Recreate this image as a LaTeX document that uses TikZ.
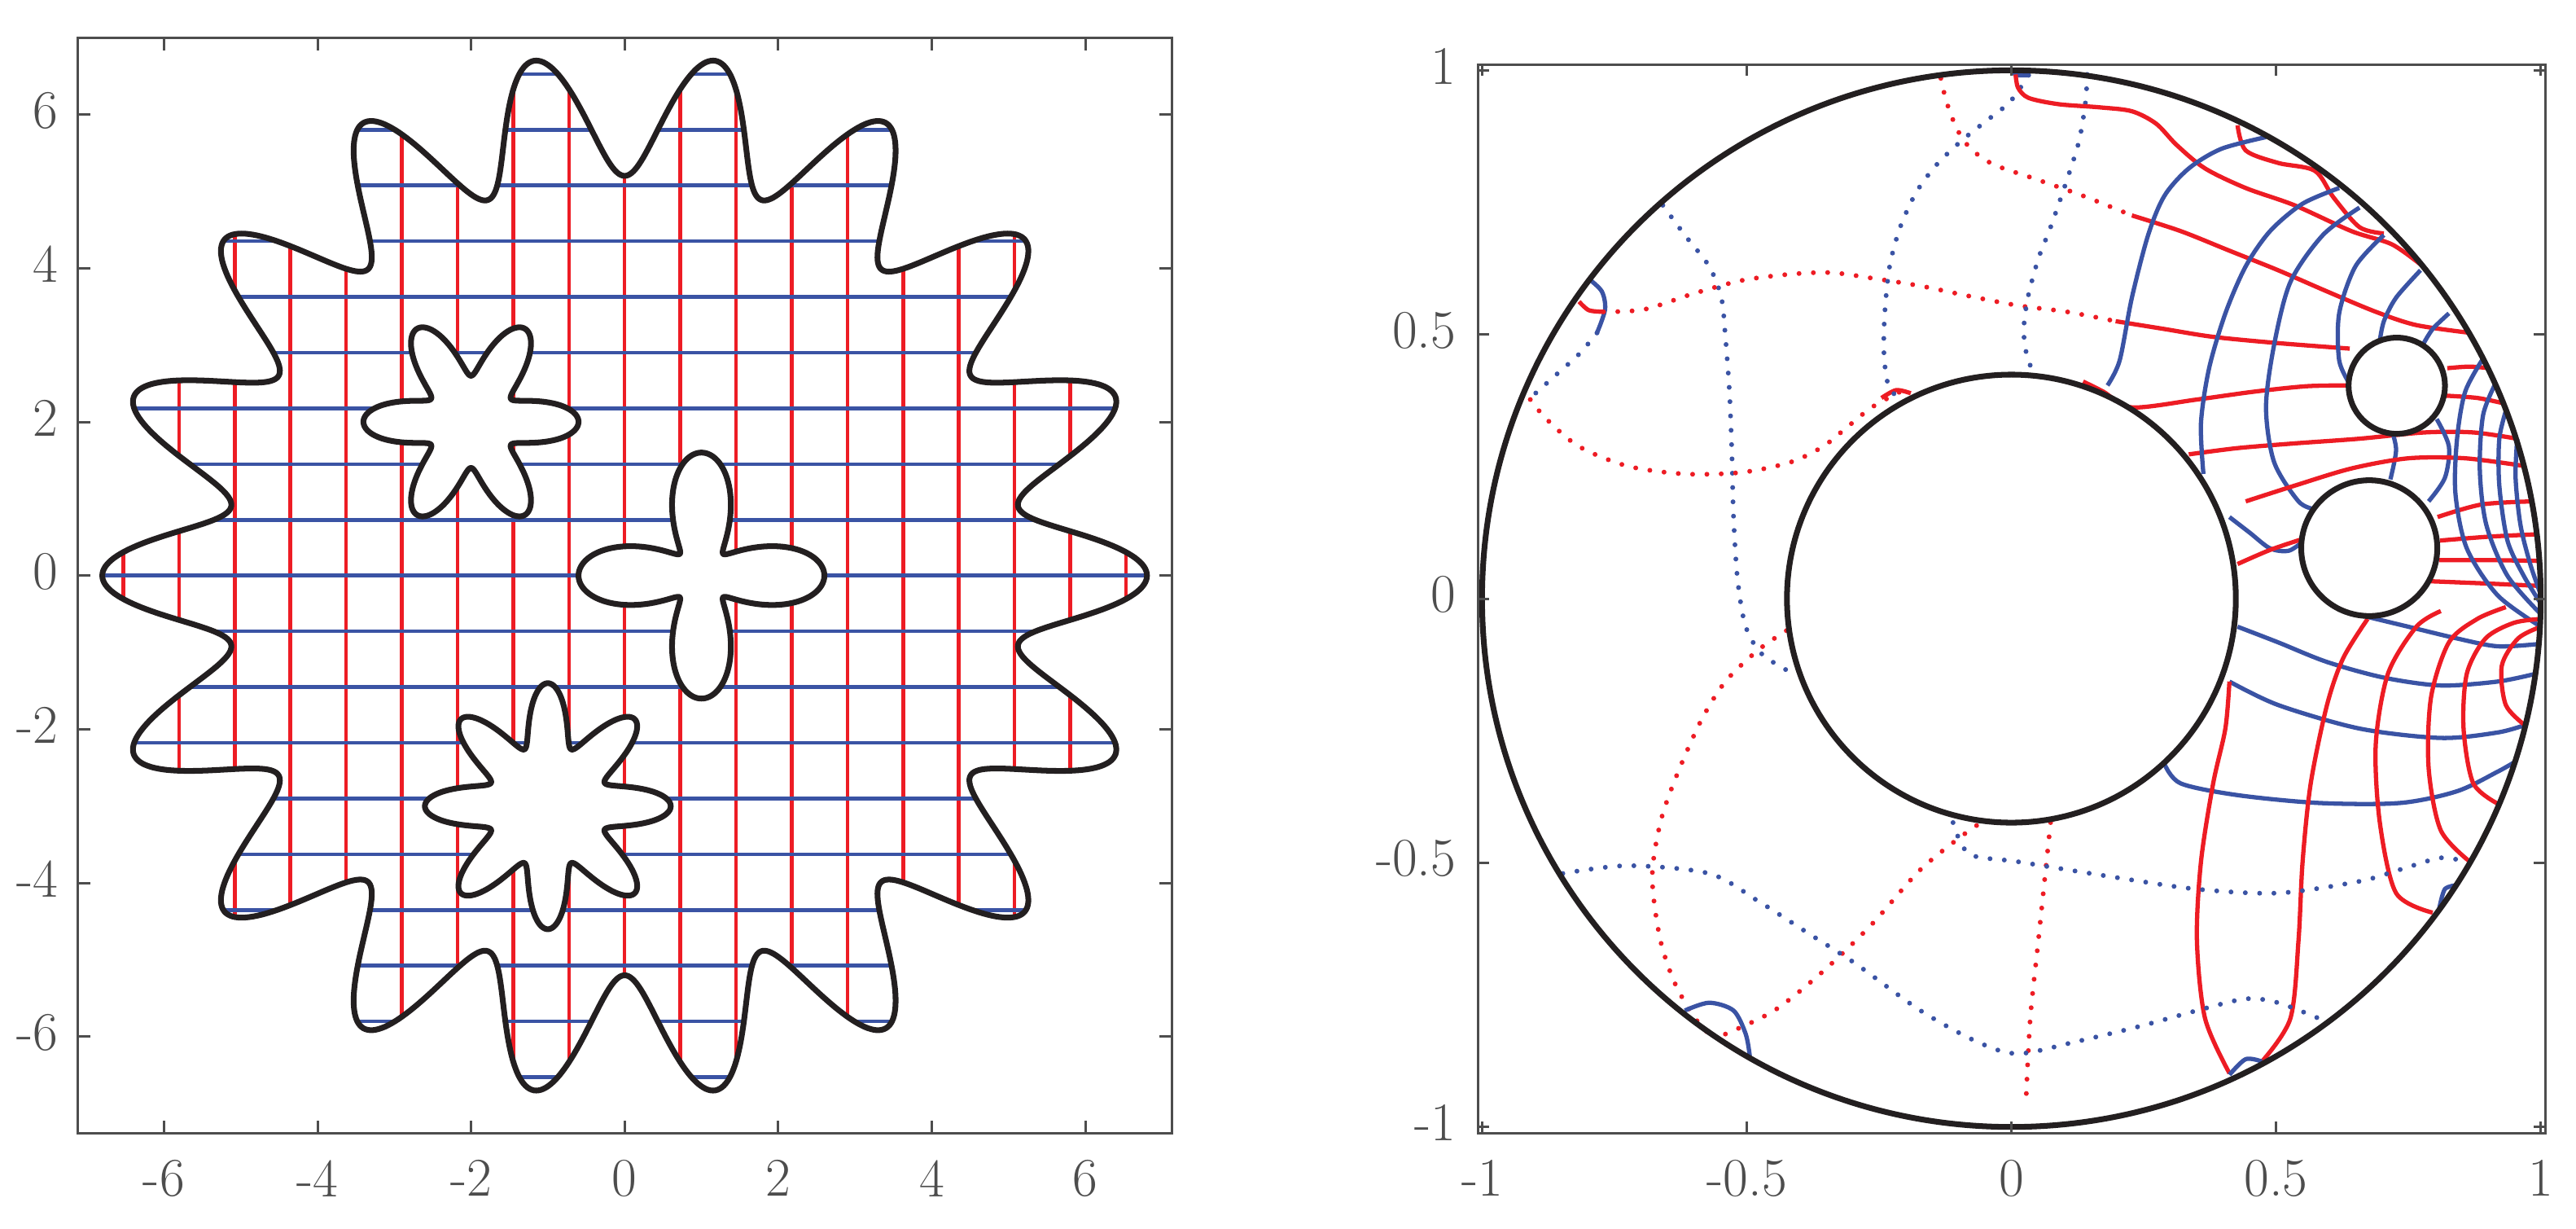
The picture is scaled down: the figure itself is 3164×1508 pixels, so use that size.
\documentclass[tikz,border=0pt]{standalone}
\usepackage{fontspec}
\definecolor{axgray}{RGB}{77,77,77}
\definecolor{gridred}{RGB}{237,28,36}
\definecolor{gridblue}{RGB}{58,83,164}
\definecolor{bnd}{RGB}{35,31,32}
\begin{document}
\begin{tikzpicture}[x=0.01cm,y=-0.01cm,
  axisline/.style={axgray, line width=0.85pt},
  ticklab/.style={text=axgray, inner sep=0pt, font=\fontsize{19}{19}\selectfont},
  redgrid/.style={gridred, line width=1.3pt},
  bluegrid/.style={gridblue, line width=1.3pt},
  bndline/.style={draw=bnd, line width=2pt},
  rdot/.style={gridred, line width=1.7pt, dash pattern=on 0pt off 5pt, line cap=round},
  bdot/.style={gridblue, line width=1.7pt, dash pattern=on 0pt off 5pt, line cap=round},
  rsol/.style={gridred, line width=1.5pt},
  bsol/.style={gridblue, line width=1.5pt},
]
\useasboundingbox (0,0) rectangle (3164,1508);

% ---------------- left panel ----------------
\begin{scope}[shift={(767.2,706.7)}, x=0.943cm, y=0.9433cm]
  \begin{scope}
    \clip plot[domain=0:360, samples=1441] ({(6+0.8*cos(18*\x))*cos(\x)}, {(6+0.8*cos(18*\x))*sin(\x)}) -- cycle;
    \foreach \k in {-9,...,9} \draw[redgrid] ({0.725*\k},-7.3) -- ({0.725*\k},7.3);
    \foreach \k in {-9,...,9} \draw[bluegrid] (-7.3,{0.725*\k}) -- (7.3,{0.725*\k});
  \end{scope}
  \draw[bndline] plot[domain=0:360, samples=1441] ({(6+0.8*cos(18*\x))*cos(\x)}, {(6+0.8*cos(18*\x))*sin(\x)}) -- cycle;
  \draw[bndline, fill=white] plot[domain=0:360, samples=721] ({-2+(1+0.4*cos(6*\x))*cos(\x)}, {2+(1+0.4*cos(6*\x))*sin(\x)}) -- cycle;
  \draw[bndline, fill=white] plot[domain=0:360, samples=721] ({1+(1+0.6*cos(4*\x))*cos(\x)}, {(1+0.6*cos(4*\x))*sin(\x)}) -- cycle;
  \draw[bndline, fill=white] plot[domain=0:360, samples=721] ({-1+(1.2+0.4*cos(8*\x))*cos(\x)}, {-3+(1.2+0.4*cos(8*\x))*sin(\x)}) -- cycle;
\end{scope}
\draw[axisline] (95.7,46.7) rectangle (1439.3,1391);
\foreach \k [count=\i] in {-6,-4,-2,0,2,4,6} {
  \draw[axisline] ({767.2+94.3*\k},1391) -- ++(0,-15);
  \draw[axisline] ({767.2+94.3*\k},46.7) -- ++(0,15);
  \node[ticklab, anchor=north] (lx\i) at ({767.2+94.3*\k},1424) {\k};
  \draw[axisline] (95.7,{706.7-94.33*\k}) -- ++(15,0);
  \draw[axisline] (1439.3,{706.7-94.33*\k}) -- ++(-15,0);
  \node[ticklab, anchor=east] (ly\i) at (72,{701.7-94.33*\k}) {\k};
}

% ---------------- right panel ----------------
\begin{scope}[shift={(1600,0)}, x=0.009974cm, y=-0.009617cm]
  % sparse (dotted) curves, upper half
  \draw[bdot] plot[smooth] coordinates {(443,262) (470,300) (500,340) (515,380) (520,430) (525,500) (528,580) (530,660) (535,740) (545,800) (565,835) (600,858)};
  \draw[bsol] plot[smooth] coordinates {(352,356) (368,372) (372,395) (362,425)};
  \draw[bdot] plot[smooth] coordinates {(362,425) (340,452) (310,480) (280,508)};
  \draw[rsol] plot[smooth] coordinates {(340,385) (352,396) (370,398)};
  \draw[rdot] plot[smooth] coordinates {(370,398) (420,395) (480,375) (540,358) (600,350) (650,348) (700,355) (760,365) (820,378) (880,390) (940,398) (1000,410)};
  \draw[rsol] plot[smooth] coordinates {(1000,410) (1060,420) (1120,430) (1200,438) (1288,445)};
  \draw[rdot] plot[smooth] coordinates {(280,510) (300,535) (340,570) (400,595) (470,605) (540,603) (600,590) (640,570) (670,545) (700,520) (735,500)};
  \draw[rsol] plot[smooth] coordinates {(712,508) (730,498) (748,502)};
  \draw[bdot] plot[smooth] coordinates {(893,96) (870,130) (840,155) (810,180) (780,210) (755,245) (735,290) (722,340) (716,400) (715,450) (720,490) (735,512)};
  \draw[bdot] plot[smooth] coordinates {(965,95) (963,130) (955,180) (940,230) (920,290) (905,330) (892,380) (887,420) (890,450) (897,472)};
  \draw[rdot] plot[smooth] coordinates {(785,100) (792,130) (805,165) (822,190) (850,210) (900,228) (960,250) (1020,275)};
  \draw[rsol] plot[smooth] coordinates {(1020,275) (1080,295) (1140,320) (1200,345) (1260,372) (1320,398) (1370,415) (1437,425)};
  \draw[bsol] plot[smooth] coordinates {(872,92) (880,96) (893,96)};
  \draw[rsol] plot[smooth] coordinates {(877,95) (880,112) (893,125) (930,133) (980,137) (1020,142) (1050,158) (1075,185) (1110,215) (1160,240) (1220,262) (1290,295) (1340,312) (1378,340)};
  \draw[rsol] plot[smooth] coordinates {(1150,160) (1160,192) (1200,208) (1245,218) (1268,252) (1300,290) (1330,298)};
  \draw[rsol] plot[smooth] coordinates {(960,487) (985,500) (1020,520) (1100,510) (1170,500) (1235,493) (1287,492)};
  \draw[rsol] plot[smooth] coordinates {(1090,580) (1150,572) (1220,566) (1300,560) (1380,552) (1440,552) (1494,560)};
  % blue arcs, upper right
  \draw[bsol] plot[smooth] coordinates {(1185,175) (1130,190) (1090,215) (1060,250) (1040,300) (1020,380) (1005,460) (990,492)};
  \draw[bsol] plot[smooth] coordinates {(1275,240) (1230,260) (1190,295) (1160,340) (1135,400) (1115,470) (1105,540) (1108,605)};
  \draw[bsol] plot[smooth] coordinates {(1300,265) (1255,300) (1215,360) (1195,440) (1185,520) (1195,590) (1225,640) (1245,650)};
  \draw[bsol] plot[smooth] coordinates {(1330,300) (1295,340) (1275,400) (1275,460) (1288,490)};
  \draw[bsol] plot[smooth] coordinates {(1375,345) (1345,380) (1330,410) (1325,435)};
  \draw[bsol] plot[smooth] coordinates {(1410,400) (1390,420) (1378,440)};
  \draw[bsol] plot[smooth] coordinates {(1140,660) (1165,680) (1190,700) (1213,703) (1232,690)};
  \draw[bsol] plot[smooth] coordinates {(1340,550) (1345,575) (1338,612)};
  \draw[bsol] plot[smooth] coordinates {(1395,535) (1410,570) (1405,610) (1385,640)};
  % dense mesh right of the small circles
  \draw[rsol] plot[smooth] coordinates {(1408,470) (1435,468) (1460,470)};
  \draw[rsol] plot[smooth] coordinates {(1405,505) (1445,508) (1478,515)};
  \draw[rsol] plot[smooth] coordinates {(1160,640) (1220,620) (1290,598) (1360,585) (1430,585) (1504,595)};
  \draw[rsol] plot[smooth] coordinates {(1396,660) (1450,644) (1513,640)};
  \draw[rsol] plot[smooth] coordinates {(1399,690) (1460,685) (1519,682)};
  \draw[rsol] plot[smooth] coordinates {(1398,715) (1460,715) (1522,716)};
  \draw[rsol] plot[smooth] coordinates {(1388,742) (1460,745) (1524,748)};
  \draw[rsol] plot[smooth] coordinates {(1150,720) (1190,702) (1230,688)};
  \draw[bsol] plot[smooth] coordinates {(1453,456) (1430,500) (1420,560) (1418,630) (1432,700) (1470,760) (1523,800)};
  \draw[bsol] plot[smooth] coordinates {(1468,488) (1452,530) (1448,600) (1456,670) (1482,735) (1524,785)};
  \draw[bsol] plot[smooth] coordinates {(1481,521) (1472,560) (1472,620) (1482,690) (1502,735) (1524,772)};
  \draw[bsol] plot[smooth] coordinates {(1494,560) (1492,610) (1498,670) (1510,720) (1524,762)};
  % lower right block
  \draw[bsol] plot[smooth] coordinates {(1300,785) (1360,800) (1420,815) (1470,825) (1521,822)};
  \draw[bsol] plot[smooth] coordinates {(1150,800) (1200,820) (1260,845) (1330,865) (1400,875) (1470,870) (1517,860)};
  \draw[bsol] plot[smooth] coordinates {(1140,870) (1200,900) (1300,930) (1400,942) (1470,935) (1505,925)};
  \draw[bsol] plot[smooth] coordinates {(1060,975) (1080,1000) (1150,1015) (1250,1025) (1350,1025) (1420,1010) (1470,985) (1492,972)};
  \draw[rsol] plot[smooth] coordinates {(1140,1370) (1110,1300) (1100,1200) (1105,1100) (1120,1000) (1135,930) (1140,870)};
  \draw[rsol] plot[smooth] coordinates {(1180,1355) (1215,1300) (1225,1200) (1230,1100) (1240,1000) (1260,900) (1280,840) (1310,790)};
  \draw[rsol] plot[smooth] coordinates {(1390,1165) (1345,1140) (1325,1050) (1320,950) (1335,860) (1370,800) (1400,780)};
  \draw[rsol] plot[smooth] coordinates {(1437,1101) (1400,1060) (1385,980) (1388,890) (1410,820) (1445,790) (1480,775)};
  \draw[rsol] plot[smooth] coordinates {(1472,1027) (1440,1000) (1428,930) (1432,860) (1455,815) (1490,795) (1524,790)};
  \draw[rsol] plot[smooth] coordinates {(1505,927) (1480,900) (1475,850) (1495,815) (1523,800)};
  \draw[bsol] plot[smooth] coordinates {(1140,1372) (1160,1352) (1180,1355)};
  \draw[bsol] plot[smooth] coordinates {(1398,1160) (1405,1135) (1420,1130)};
  % sparse (dotted) curves, lower half
  \draw[rdot] plot[smooth] coordinates {(595,805) (560,830) (520,870) (490,920) (460,990) (440,1050) (430,1120) (440,1200) (460,1260) (490,1310) (510,1325)};
  \draw[rdot] plot[smooth] coordinates {(520,1320) (580,1290) (640,1240) (700,1180) (760,1110) (820,1060) (840,1048)};
  \draw[rdot] plot[smooth] coordinates {(920,1050) (915,1100) (905,1200) (895,1300) (890,1400)};
  \draw[bdot] plot[smooth] coordinates {(320,1115) (400,1105) (500,1115) (560,1150) (620,1190) (680,1230) (760,1290) (830,1330) (880,1345) (950,1330) (1030,1310) (1100,1290) (1160,1275) (1200,1280) (1250,1300)};
  \draw[bdot] plot[smooth] coordinates {(800,1050) (820,1090) (880,1100) (1000,1120) (1100,1135) (1200,1140) (1300,1125) (1350,1110) (1400,1095) (1430,1100)};
  \draw[bsol] plot[smooth] coordinates {(470,1290) (500,1280) (530,1290) (545,1320) (550,1348)};
\end{scope}
\begin{scope}[shift={(2470.5,735)}, x=6.498cm, y=6.483cm]
  \draw[bndline] (0,0) circle[radius=1];
  \draw[bndline, fill=white] (0,0) circle[radius=0.424];
  \draw[bndline, fill=white] (0.728,0.403) circle[radius=0.091];
  \draw[bndline, fill=white] (0.676,0.0956) circle[radius=0.1285];
\end{scope}
\draw[axisline] (1815.3,79.3) rectangle (3126.3,1391);
\foreach \v/\t [count=\i] in {-1/-1,-0.5/-0.5,0/0,0.5/0.5,1/1} {
  \draw[axisline] ({2470.5+649.8*\v},1391) -- ++(0,-14);
  \draw[axisline] ({2470.5+649.8*\v},79.3) -- ++(0,14);
  \node[ticklab, anchor=north] (rx\i) at ({2470.5+649.8*\v},1424) {\t};
  \draw[axisline] (1815.3,{735-648.3*\v}) -- ++(14,0);
  \draw[axisline] (3126.3,{735-648.3*\v}) -- ++(-14,0);
  \node[ticklab, anchor=east] (ry\i) at (1789,{730-648.3*\v}) {\t};
}
\end{tikzpicture}
\end{document}
